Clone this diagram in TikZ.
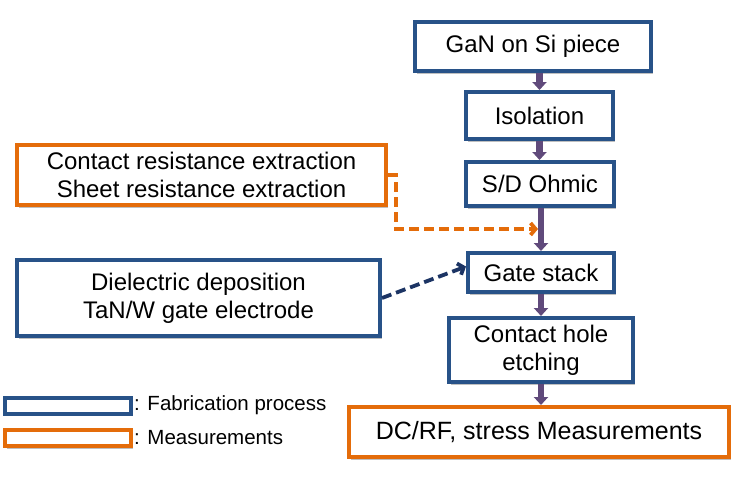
\documentclass[tikz,border=0pt]{standalone}
\usepackage{fontspec}
\setmainfont{Liberation Sans}
\usetikzlibrary{arrows.meta,shadows}
\definecolor{fabblue}{RGB}{40,82,136}
\definecolor{measorange}{RGB}{228,108,10}
\definecolor{arrpurple}{RGB}{96,74,123}
\definecolor{navydash}{RGB}{28,52,100}
\begin{document}
\begin{tikzpicture}[x=1pt,y=-1pt,
  basebox/.style={rectangle, line width=4pt, fill=white, inner sep=0pt, align=center,
    font=\fontsize{24}{28}\selectfont,
    drop shadow={shadow xshift=2pt, shadow yshift=-2.5pt, opacity=0.25, fill=black}},
  fabbox/.style={basebox, draw=fabblue},
  measbox/.style={basebox, draw=measorange},
  parr/.style={draw=arrpurple, line width=6.5pt, -{Triangle[width=14pt,length=8pt]}},
  odash/.style={draw=measorange, line width=3.8pt, dash pattern=on 10pt off 5pt, -{Straight Barb[length=5pt,width=12pt]}},
  ndash/.style={draw=navydash, line width=3.8pt, dash pattern=on 10pt off 5pt, -{Straight Barb[length=5pt,width=12pt]}},
  legtext/.style={anchor=west, inner sep=1pt, font=\fontsize{20.5}{24}\selectfont}
]
\useasboundingbox (0,0) rectangle (734,482);

\node[fabbox, minimum width=236pt, minimum height=49pt] (gan) at (533,46.5) {GaN on Si piece};
\node[fabbox, minimum width=147pt, minimum height=47pt] (iso) at (539.5,115.5) {Isolation};
\node[fabbox, minimum width=148pt, minimum height=44pt] (sd) at (540,184) {S/D Ohmic};
\node[fabbox, minimum width=146pt, minimum height=39pt] (gate) at (541,272.5) {Gate stack};
\node[fabbox, minimum width=184pt, minimum height=64pt] (chole) at (541,350) {Contact hole\\etching};
\node[measbox, minimum width=380pt, minimum height=50pt, font=\fontsize{25}{28}\selectfont] (dcrf) at (539,432) {DC/RF, stress Measurements};

\node[measbox, minimum width=369pt, minimum height=60pt] (meas1) at (201.5,175) {Contact resistance extraction\\Sheet resistance extraction};
\node[fabbox, minimum width=363pt, minimum height=76pt] (diel) at (198.5,298) {Dielectric deposition\\TaN/W gate electrode};

\draw[parr] (iso.north |- gan.south) -- (iso.north);
\draw[parr] (iso.south) -- (sd.north -| iso.south);
\draw[parr] (sd.south -| gate.north) -- (gate.north);
\draw[parr] (gate.south) -- (chole.north);
\draw[parr] (chole.south) -- (chole.south |- dcrf.north);

\coordinate (oend) at (538,229);
\draw[odash] (meas1.east) -- ++(8,0) |- (oend);
\draw[ndash] (diel.east) -- ([yshift=6pt]gate.west);

\node[fabbox, minimum width=126pt, minimum height=16pt, drop shadow={opacity=0}] (legfab) at (68,405.5) {};
\node[legtext] (legfabt) at (legfab.east) {: Fabrication process};
\node[measbox, minimum width=126pt, minimum height=16pt, drop shadow={opacity=0}] (legmeas) at (68,438) {};
\node[legtext] (legmeast) at (legmeas.east) {: Measurements};
\end{tikzpicture}
\end{document}
